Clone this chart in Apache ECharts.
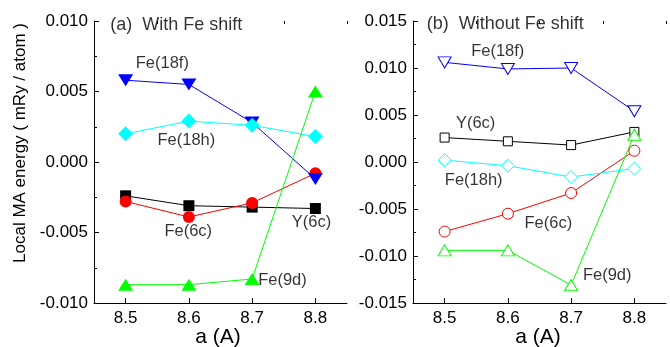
<!DOCTYPE html>
<html>
<head>
<meta charset="utf-8">
<script src="https://cdn.jsdelivr.net/npm/echarts@6/dist/echarts.min.js"></script>
<style>
html,body{margin:0;padding:0;background:#fff;}
#chart{width:670px;height:347px;}
</style>
</head>
<body>
<div id="chart"></div>
<script>
// ---- data ----
const aValues = [8.5, 8.6, 8.7, 8.8];
const xTickValues = [8.5, 8.6, 8.7, 8.8];
const xMinorTickValues = [8.45, 8.55, 8.65, 8.75, 8.85];

// (a) With Fe shift
const y6cA   = [-0.0024, -0.0031, -0.0032, -0.0033];
const fe6cA  = [-0.0028, -0.0039, -0.0029, -0.0008];
const fe18fA = [0.0058, 0.0055, 0.0028, -0.0012];
const fe18hA = [0.0020, 0.0029, 0.0026, 0.0018];
const fe9dA  = [-0.0087, -0.0087, -0.0083, 0.0050];

// (b) Without Fe shift
const y6cB   = [0.0026, 0.0022, 0.0018, 0.0032];
const fe6cB  = [-0.0074, -0.0055, -0.0033, 0.0012];
const fe18fB = [0.0106, 0.0099, 0.0100, 0.0054];
const fe18hB = [0.0002, -0.0004, -0.0016, -0.0007];
const fe9dB  = [-0.0094, -0.0094, -0.0131, 0.0029];

// panel titles: [text, a, energy]
const titlesA = [['(a)  With Fe shift', 8.58, 0.0097]];
const titlesB = [['(b)  Without Fe shift', 8.596, 0.01468]];

// text annotations: [text, a, energy]
const labelsA = [
  ['Fe(18f)', 8.558, 0.0070],
  ['Fe(18h)', 8.596, 0.00156],
  ['Fe(6c)', 8.599, -0.00495],
  ['Y(6c)', 8.794, -0.00432],
  ['Fe(9d)', 8.748, -0.00842]
];
const labelsB = [
  ['Fe(18f)', 8.584, 0.0118],
  ['Y(6c)', 8.549, 0.00415],
  ['Fe(18h)', 8.546, -0.0020],
  ['Fe(6c)', 8.664, -0.0065],
  ['Fe(9d)', 8.757, -0.0121]
];

const FONT = 'Liberation Sans, Arial, sans-serif';
const chart = echarts.init(document.getElementById('chart'), null, {renderer: 'canvas'});

function pairs(ys) { return aValues.map((x, i) => [x, ys[i]]); }

function xAxes(grid) {
  return [
    {
      type: 'value', gridIndex: grid, min: 8.45, max: 8.85,
      axisLine: {show: true, onZero: false, lineStyle: {color: '#000', width: 1}},
      axisTick: {show: true, inside: true, length: 5, customValues: xTickValues, lineStyle: {color: '#000'}},
      axisLabel: {show: true, customValues: xTickValues, formatter: v => v.toFixed(1),
        fontSize: 17, color: '#000', fontFamily: FONT, margin: 7},
      splitLine: {show: false}
    },
    {
      type: 'value', gridIndex: grid, min: 8.45, max: 8.85,
      axisLine: {show: false, onZero: false},
      axisTick: {show: true, inside: true, length: 3, customValues: xMinorTickValues, lineStyle: {color: '#000'}},
      axisLabel: {show: false},
      splitLine: {show: false}
    }
  ];
}

function yAxis(grid, min, max) {
  return {
    type: 'value', gridIndex: grid, min: min, max: max, interval: 0.005,
    axisLine: {show: true, onZero: false, lineStyle: {color: '#000', width: 1}},
    axisTick: {show: true, inside: true, length: 5, lineStyle: {color: '#000'}},
    minorTick: {show: true, splitNumber: 2, length: 3, lineStyle: {color: '#000'}},
    axisLabel: {formatter: v => v.toFixed(3), fontSize: 17, color: '#000', fontFamily: FONT, margin: 6},
    splitLine: {show: false},
    minorSplitLine: {show: false}
  };
}

function lineSeries(name, ys, xi, yi, color, symbol, size, rotate, open) {
  return {
    name: name, type: 'line', xAxisIndex: xi, yAxisIndex: yi,
    data: pairs(ys),
    symbol: symbol, symbolSize: size, symbolRotate: rotate || 0,
    showSymbol: true,
    lineStyle: {color: color, width: 1},
    itemStyle: open ? {color: '#fff', borderColor: color, borderWidth: 1}
                    : {color: color, borderWidth: 0},
    z: 2
  };
}

function labelSeries(list, xi, yi, size) {
  return {
    type: 'scatter', xAxisIndex: xi, yAxisIndex: yi,
    symbolSize: 1, itemStyle: {color: 'rgba(0,0,0,0)'},
    data: list.map(l => ({name: l[0], value: [l[1], l[2]]})),
    label: {show: true, position: 'inside', formatter: '{b}', color: '#000',
      fontSize: size, fontFamily: FONT},
    silent: true, z: 5
  };
}

const option = {
  animation: false,
  backgroundColor: '#fff',
  textStyle: {fontFamily: FONT},
  grid: [
    {left: 94, top: 21, width: 253, height: 282},
    {left: 413, top: 21, width: 253, height: 282}
  ],
  xAxis: [...xAxes(0), ...xAxes(1)],
  yAxis: [yAxis(0, -0.010, 0.010), yAxis(1, -0.015, 0.015)],
  series: [
    lineSeries('Y(6c)', y6cA, 0, 0, '#000000', 'rect', 11, 0, false),
    lineSeries('Fe(6c)', fe6cA, 0, 0, '#ff0000', 'circle', 12, 0, false),
    lineSeries('Fe(18f)', fe18fA, 0, 0, '#0000ff', 'triangle', [15, 12], 180, false),
    lineSeries('Fe(18h)', fe18hA, 0, 0, '#00ffff', 'diamond', [15, 15], 0, false),
    lineSeries('Fe(9d)', fe9dA, 0, 0, '#00ff00', 'triangle', [15, 12], 0, false),
    lineSeries('Y(6c)', y6cB, 2, 1, '#000000', 'rect', 9, 0, true),
    lineSeries('Fe(6c)', fe6cB, 2, 1, '#ff0000', 'circle', 11, 0, true),
    lineSeries('Fe(18f)', fe18fB, 2, 1, '#0000ff', 'triangle', [13, 11], 180, true),
    lineSeries('Fe(18h)', fe18hB, 2, 1, '#00ffff', 'diamond', [13, 13], 0, true),
    lineSeries('Fe(9d)', fe9dB, 2, 1, '#00ff00', 'triangle', [13, 11], 0, true),
    labelSeries(labelsA, 0, 0, 16.5),
    labelSeries(labelsB, 2, 1, 16.5),
    labelSeries(titlesA, 0, 0, 18),
    labelSeries(titlesB, 2, 1, 18)
  ],
  graphic: [
    {type: 'text', x: 20, y: 143, rotation: Math.PI / 2,
      style: {text: 'Local MA energy ( mRy / atom )', fontSize: 17, fontFamily: FONT,
        fill: '#000', align: 'center', verticalAlign: 'middle'}},
    {type: 'text', x: 218, y: 337,
      style: {text: 'a (A)', fontSize: 21, fontFamily: FONT, fill: '#000',
        align: 'center', verticalAlign: 'middle'}},
    {type: 'text', x: 538, y: 337,
      style: {text: 'a (A)', fontSize: 21, fontFamily: FONT, fill: '#000',
        align: 'center', verticalAlign: 'middle'}}
  ]
};
chart.setOption(option);
</script>
</body>
</html>
